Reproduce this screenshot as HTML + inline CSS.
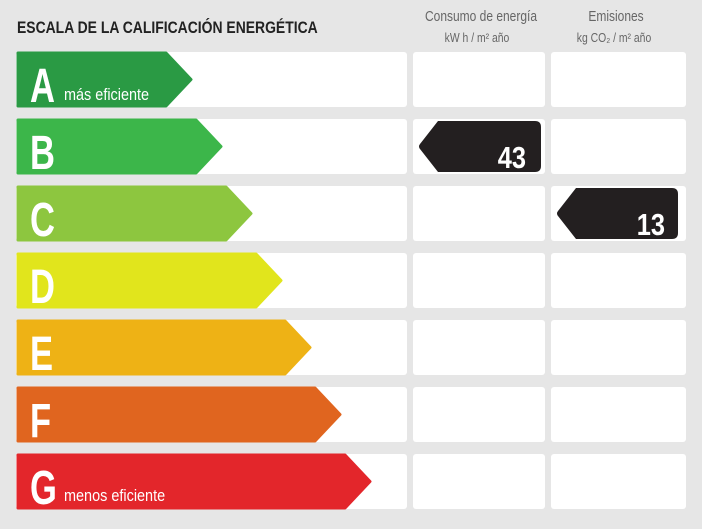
<!DOCTYPE html>
<html><head><style>body{margin:0;background:#e6e6e6}svg{display:block}</style></head><body>
<svg width="702" height="529" viewBox="0 0 702 529" xmlns="http://www.w3.org/2000/svg" font-family="Liberation Sans, sans-serif">
<rect width="702" height="529" fill="#e6e6e6"/>
<text x="17" y="33" font-size="17" font-weight="bold" fill="#222" transform="scale(0.82,1)" transform-origin="17 33">ESCALA DE LA CALIFICACIÓN ENERGÉTICA</text>
<text x="481" y="21" font-size="15" fill="#666" text-anchor="middle" transform="scale(0.8,1)" transform-origin="481 21">Consumo de energía</text>
<text x="477" y="42" font-size="13" fill="#666" text-anchor="middle" transform="scale(0.8,1)" transform-origin="477 42">kW h / m² año</text>
<text x="616" y="21" font-size="15" fill="#666" text-anchor="middle" transform="scale(0.8,1)" transform-origin="616 21">Emisiones</text>
<text x="614" y="42" font-size="13" fill="#666" text-anchor="middle" transform="scale(0.8,1)" transform-origin="614 42">kg CO₂ / m² año</text>
<g>
<rect x="16" y="52" width="391" height="55" rx="3" fill="#fff"/><rect x="413" y="52" width="132" height="55" rx="3" fill="#fff"/><rect x="551" y="52" width="135" height="55" rx="3" fill="#fff"/>
<rect x="16" y="119" width="391" height="55" rx="3" fill="#fff"/><rect x="413" y="119" width="132" height="55" rx="3" fill="#fff"/><rect x="551" y="119" width="135" height="55" rx="3" fill="#fff"/>
<rect x="16" y="186" width="391" height="55" rx="3" fill="#fff"/><rect x="413" y="186" width="132" height="55" rx="3" fill="#fff"/><rect x="551" y="186" width="135" height="55" rx="3" fill="#fff"/>
<rect x="16" y="253" width="391" height="55" rx="3" fill="#fff"/><rect x="413" y="253" width="132" height="55" rx="3" fill="#fff"/><rect x="551" y="253" width="135" height="55" rx="3" fill="#fff"/>
<rect x="16" y="320" width="391" height="55" rx="3" fill="#fff"/><rect x="413" y="320" width="132" height="55" rx="3" fill="#fff"/><rect x="551" y="320" width="135" height="55" rx="3" fill="#fff"/>
<rect x="16" y="387" width="391" height="55" rx="3" fill="#fff"/><rect x="413" y="387" width="132" height="55" rx="3" fill="#fff"/><rect x="551" y="387" width="135" height="55" rx="3" fill="#fff"/>
<rect x="16" y="454" width="391" height="55" rx="3" fill="#fff"/><rect x="413" y="454" width="132" height="55" rx="3" fill="#fff"/><rect x="551" y="454" width="135" height="55" rx="3" fill="#fff"/>
</g>
<g stroke-linejoin="round" stroke-width="3">
<path d="M18 53 H166 L191 79.5 L166 106 H18 Z" fill="#2a9a44" stroke="#2a9a44"/>
<path d="M18 120 H196 L221 146.5 L196 173 H18 Z" fill="#3cb64a" stroke="#3cb64a"/>
<path d="M18 187 H226 L251 213.5 L226 240 H18 Z" fill="#8dc63f" stroke="#8dc63f"/>
<path d="M18 254 H256 L281 280.5 L256 307 H18 Z" fill="#e1e51c" stroke="#e1e51c"/>
<path d="M18 321 H285 L310 347.5 L285 374 H18 Z" fill="#eeb215" stroke="#eeb215"/>
<path d="M18 388 H315 L340 414.5 L315 441 H18 Z" fill="#e0651f" stroke="#e0651f"/>
<path d="M18 455 H345 L370 481.5 L345 508 H18 Z" fill="#e3262b" stroke="#e3262b"/>
</g>
<g fill="#fff" font-weight="bold" font-size="48">
<text x="30" y="102" transform="scale(0.72,1)" transform-origin="30 102">A</text>
<text x="30" y="169" transform="scale(0.72,1)" transform-origin="30 169">B</text>
<text x="30" y="236" transform="scale(0.72,1)" transform-origin="30 236">C</text>
<text x="30" y="303" transform="scale(0.72,1)" transform-origin="30 303">D</text>
<text x="30" y="370" transform="scale(0.72,1)" transform-origin="30 370">E</text>
<text x="30" y="437" transform="scale(0.72,1)" transform-origin="30 437">F</text>
<text x="30" y="504" transform="scale(0.72,1)" transform-origin="30 504">G</text>
</g>
<text x="64" y="100" font-size="17" fill="#fff" transform="scale(0.85,1)" transform-origin="64 100">más eficiente</text>
<text x="64" y="501" font-size="17" fill="#fff" transform="scale(0.85,1)" transform-origin="64 501">menos eficiente</text>
<path d="M438 121 H535 Q541 121 541 127 V166 Q541 172 535 172 H438 L420 149 Q418 146.5 420 144 Z" fill="#231f20"/>
<text x="526" y="168" font-size="31" font-weight="bold" fill="#fff" text-anchor="end" transform="scale(0.82,1)" transform-origin="526 168">43</text>
<path d="M576 188 H672 Q678 188 678 194 V233 Q678 239 672 239 H576 L558 216 Q556 213.5 558 211 Z" fill="#231f20"/>
<text x="665" y="235" font-size="31" font-weight="bold" fill="#fff" text-anchor="end" transform="scale(0.82,1)" transform-origin="665 235">13</text>
</svg>
</body></html>
